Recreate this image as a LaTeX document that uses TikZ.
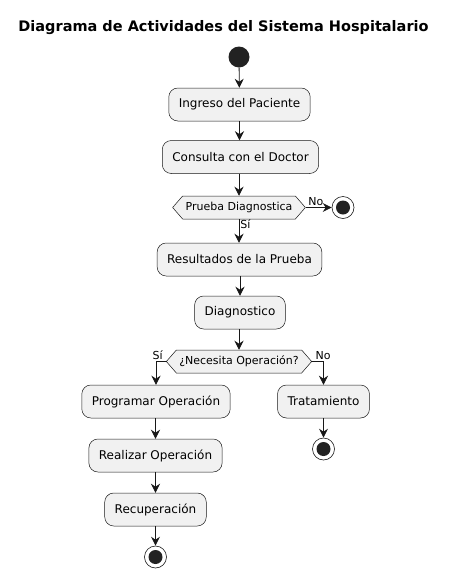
\documentclass[tikz,border=0pt]{standalone}
\usepackage{fontspec}
\setmainfont{DejaVu Sans}
\usetikzlibrary{arrows.meta,shapes.symbols}
\definecolor{boxfill}{HTML}{F1F1F1}
\definecolor{line}{HTML}{181818}
\definecolor{dot}{HTML}{222222}
\begin{document}
\begin{tikzpicture}[x=1pt,y=-1pt,
  act/.style={draw=line, line width=0.5pt, fill=boxfill, rounded corners=9pt, minimum height=33pt, inner xsep=10pt, font=\fontsize{12}{14}\selectfont},
  dec/.style={draw=line, line width=0.5pt, fill=boxfill, signal, signal to=west and east, signal pointer angle=98, minimum height=23pt, inner xsep=3pt, inner ysep=0pt, font=\fontsize{11}{13}\selectfont},
  startnode/.style={circle, fill=dot, minimum size=21pt, inner sep=0pt},
  endnode/.style={circle, draw=line, line width=0.6pt, fill=white, minimum size=22pt, inner sep=0pt, path picture={\fill[dot] (path picture bounding box.center) circle (7pt);}},
  conn/.style={draw=line, line width=0.8pt, -{Stealth[length=9pt,width=9pt,inset=3pt]}},
  lbl/.style={font=\fontsize{11}{13}\selectfont, inner sep=1pt}
]
\useasboundingbox (0,0) rectangle (449,579);
\node[font=\bfseries\fontsize{14.5}{16}\selectfont] (title) at (223.5,28) {Diagrama de Actividades del Sistema Hospitalario};
\node[startnode] (start) at (239,57) {};
\node[act] (ingreso) at (239.5,104.5) {Ingreso del Paciente};
\node[act] (consulta) at (240.5,157) {Consulta con el Doctor};
\node[dec] (prueba) at (239,207.5) {Prueba Diagnostica};
\node[endnode] (end1) at (343,207.5) {};
\node[act] (resultados) at (239.5,259.5) {Resultados de la Prueba};
\node[act] (diag) at (240,312.5) {Diagnostico};
\node[dec] (necesita) at (239,361.5) {¿Necesita Operación?};
\node[act] (programar) at (156,401.5) {Programar Operación};
\node[act] (tratamiento) at (323.5,401.5) {Tratamiento};
\node[endnode] (end3) at (323.5,449) {};
\node[act] (realizar) at (155.5,455.5) {Realizar Operación};
\node[act] (recup) at (155.5,509.5) {Recuperación};
\node[endnode] (end2) at (155.5,557) {};

\draw[conn] (start) -- (ingreso);
\draw[conn] (ingreso) -- (consulta.north -| ingreso);
\draw[conn] (consulta.south -| prueba) -- (prueba.north);
\draw[conn] (prueba.east) -- (end1.west) node[lbl, pos=0.05, anchor=south west] {No};
\draw[conn] (prueba.south) -- (resultados.north -| prueba) node[lbl, pos=0.2, anchor=west] {Sí};
\draw[conn] (resultados.south -| diag) -- (diag.north);
\draw[conn] (diag.south -| necesita) -- (necesita.north);
\draw[conn] (necesita.west) -| (programar.north) node[lbl, pos=0.1, anchor=south east] {Sí};
\draw[conn] (necesita.east) -| (tratamiento.north) node[lbl, pos=0.1, anchor=south west] {No};
\draw[conn] (tratamiento) -- (end3);
\draw[conn] (programar.south -| realizar) -- (realizar.north);
\draw[conn] (realizar) -- (recup);
\draw[conn] (recup) -- (end2);
\end{tikzpicture}
\end{document}
